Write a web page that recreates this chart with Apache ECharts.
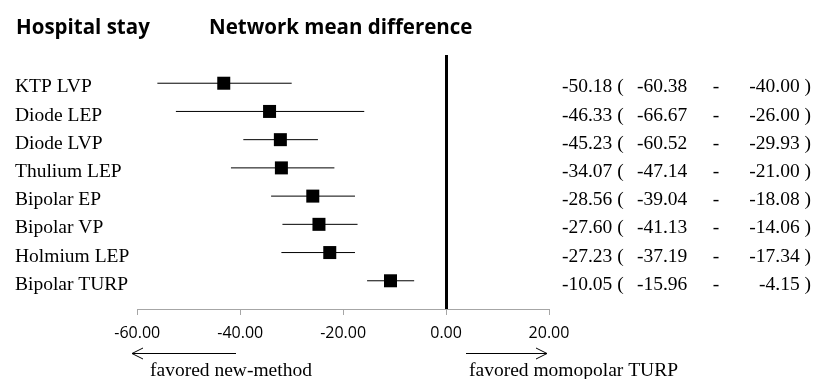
<!DOCTYPE html>
<html>
<head>
<meta charset="utf-8">
<script src="https://cdn.jsdelivr.net/npm/echarts@6/dist/echarts.min.js"></script>
<style>html,body{margin:0;padding:0;background:#fff}#c{width:817px;height:379px}</style>
</head>
<body>
<div id="c"></div>
<script>
const categories = ['KTP LVP','Diode LEP','Diode LVP','Thulium LEP','Bipolar EP','Bipolar VP','Holmium LEP','Bipolar TURP'];
// plotted positions
const plotMean = [-43.2,-34.3,-32.2,-32.0,-25.9,-24.7,-22.6,-10.8];
const plotLow  = [-56.1,-52.5,-39.4,-41.8,-34.0,-31.8,-32.0,-15.35];
const plotHigh = [-30.0,-15.9,-24.9,-21.7,-17.7,-17.2,-17.7,-6.2];
// printed estimates
const estText  = ['-50.18','-46.33','-45.23','-34.07','-28.56','-27.60','-27.23','-10.05'];
const lowText  = ['-60.38','-66.67','-60.52','-47.14','-39.04','-41.13','-37.19','-15.96'];
const highText = ['-40.00','-26.00','-29.93','-21.00','-18.08','-14.06','-17.34','-4.15'];
const xTicks = [-60, -40, -20, 0, 20];
const xMin = -60, xMax = 20, xStep = 20;

const SERIF = 'Liberation Serif';
const SANS = 'Open Sans';
const N = categories.length;
const AXIS_ROW = N + 1;          // row value where the horizontal axis sits
const Y_MAX = 9.2126;            // leaves room for the downward ticks inside the plot
const AXIS_GRAY = '#a6a6a6';

const chart = echarts.init(document.getElementById('c'), null, {renderer: 'canvas'});

function txt(x, y, text, align) {
  return {type: 'text', x: x, y: y,
          style: {text: text, fontFamily: SERIF, fontSize: 19.5, fill: '#000', align: align, verticalAlign: 'middle'}};
}

chart.setOption({
  animation: false,
  backgroundColor: '#fff',
  title: [
    {text: 'Hospital stay', left: 16, top: 18, padding: 0,
     textStyle: {fontFamily: SANS, fontWeight: 'bold', fontSize: 20.5, color: '#000'}},
    {text: 'Network mean difference', left: 209, top: 18, padding: 0,
     textStyle: {fontFamily: SANS, fontWeight: 'bold', fontSize: 20.5, color: '#000'}}
  ],
  grid: {left: 137.3, right: 268, top: 55, bottom: 64},
  xAxis: {
    type: 'value', min: xMin, max: xMax, interval: xStep, position: 'bottom',
    axisLine: {show: false, onZero: false},
    axisTick: {show: false},
    splitLine: {show: false},
    axisLabel: {formatter: v => v.toFixed(2), fontFamily: SANS, fontSize: 16, color: '#000', margin: 10}
  },
  yAxis: {
    type: 'value', min: 0, max: Y_MAX, inverse: true,
    axisLine: {show: false}, axisTick: {show: false}, splitLine: {show: false}, axisLabel: {show: false}
  },
  series: [
    {
      // axis baseline and downward ticks, drawn through the scales
      type: 'custom',
      silent: true,
      data: xTicks.map(v => [v, AXIS_ROW]),
      encode: {x: 0, y: 1},
      renderItem: (params, api) => {
        const p = api.coord([api.value(0), api.value(1)]);
        const y = Math.round(p[1]) + 0.5;
        const x = Math.round(p[0]) + 0.5;
        const children = [{type: 'line', shape: {x1: x, y1: y, x2: x, y2: y + 5.5},
                            style: {stroke: AXIS_GRAY, lineWidth: 1}}];
        if (params.dataIndex === 0) {
          const a = api.coord([xMin, api.value(1)]);
          const b = api.coord([xMax, api.value(1)]);
          children.push({type: 'line', shape: {x1: Math.round(a[0]), y1: y, x2: Math.round(b[0]) + 1, y2: y},
                         style: {stroke: AXIS_GRAY, lineWidth: 1}});
        }
        return {type: 'group', children: children};
      },
      z: 1
    },
    {
      type: 'custom',
      data: categories.map((c, i) => [plotLow[i], plotHigh[i], i + 1]),
      encode: {x: [0, 1], y: 2},
      renderItem: (params, api) => {
        const a = api.coord([api.value(0), api.value(2)]);
        const b = api.coord([api.value(1), api.value(2)]);
        return {type: 'line', shape: {x1: a[0], y1: a[1], x2: b[0], y2: b[1]},
                style: {stroke: '#000', lineWidth: 1}};
      },
      z: 2
    },
    {
      type: 'scatter',
      data: categories.map((c, i) => [plotMean[i], i + 1]),
      symbol: 'rect', symbolSize: 13,
      itemStyle: {color: '#000', opacity: 1},
      z: 3,
      markLine: {
        silent: true, symbol: 'none', label: {show: false},
        lineStyle: {color: '#000', width: 3, type: 'solid'},
        data: [[{coord: [0, 0]}, {coord: [0, AXIS_ROW]}]]
      }
    },
    {
      // row labels and printed estimates, placed per row through the axes
      type: 'custom',
      clip: false,
      silent: true,
      data: categories.map((c, i) => [xMin, i + 1]),
      encode: {x: 0, y: 1},
      renderItem: (params, api) => {
        const i = params.dataIndex;
        const row = api.value(1);
        const pL = api.coord([xMin, row]);
        const pR = api.coord([xMax, row]);
        const y = pL[1] + 4;
        return {type: 'group', children: [
          txt(pL[0] - 122.3, y, categories[i], 'left'),
          txt(pR[0] + 13, y, estText[i] + ' (', 'left'),
          txt(pR[0] + 88, y, lowText[i], 'left'),
          txt(pR[0] + 167, y, '-', 'center'),
          txt(pR[0] + 262, y, highText[i] + ' )', 'right')
        ]};
      },
      z: 4
    }
  ],
  graphic: [
    {type: 'line', shape: {x1: 132, y1: 353.5, x2: 236, y2: 353.5}, style: {stroke: '#000', lineWidth: 1}},
    {type: 'polyline', shape: {points: [[143, 348], [132, 353.5], [143, 359]]}, style: {stroke: '#000', lineWidth: 1, fill: null}},
    {type: 'line', shape: {x1: 466, y1: 353.5, x2: 547, y2: 353.5}, style: {stroke: '#000', lineWidth: 1}},
    {type: 'polyline', shape: {points: [[536, 348], [547, 353.5], [536, 359]]}, style: {stroke: '#000', lineWidth: 1, fill: null}},
    {type: 'text', left: 150, top: 361, style: {text: 'favored new-method', font: '19.5px "Liberation Serif"', fill: '#000'}},
    {type: 'text', left: 469, top: 361, style: {text: 'favored momopolar TURP', font: '19.5px "Liberation Serif"', fill: '#000'}}
  ]
});
</script>
</body>
</html>
